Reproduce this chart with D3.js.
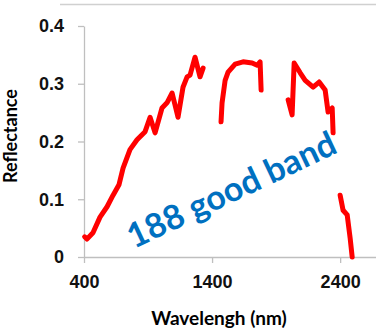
<!DOCTYPE html>
<html>
<head>
<meta charset="utf-8">
<script src="https://cdn.jsdelivr.net/npm/d3@7"></script>
<style>
  body { margin: 0; background: #fff; }
  svg { display: block; font-family: Lato, "Open Sans", sans-serif; }
  .axis path, .axis line { stroke: #bfbfbf; stroke-width: 1.3; }
  .axis text { font-size: 18px; font-weight: bold; fill: #111; }
</style>
</head>
<body>
<svg width="376" height="329"></svg>
<script>
// spectrum, null = removed (bad) bands
const wavelengths = [405, 423, 470, 525, 580, 627, 673, 705, 759, 814, 877, 916, 955, 1009, 1048, 1088, 1134, 1173, 1205, 1228, 1267, 1306, 1330,
  1400,
  1470, 1478, 1502, 1525, 1580, 1642, 1713, 1752, 1775, 1783,
  1900,
  1994, 2025, 2041, 2088, 2127, 2189, 2236, 2283, 2306, 2338, 2345,
  2370,
  2400, 2423, 2455, 2478, 2494];
const reflectance = [0.035, 0.031, 0.042, 0.069, 0.087, 0.107, 0.125, 0.154, 0.186, 0.203, 0.217, 0.242, 0.215, 0.258, 0.267, 0.284, 0.242, 0.294, 0.312, 0.315, 0.346, 0.312, 0.327,
  null,
  0.234, 0.267, 0.306, 0.320, 0.334, 0.338, 0.336, 0.332, 0.338, 0.289,
  null,
  0.272, 0.246, 0.336, 0.319, 0.306, 0.294, 0.303, 0.289, 0.251, 0.258, 0.215,
  null,
  0.107, 0.081, 0.073, 0.033, 0.0];

const xTicks = [400, 1400, 2400];
const yTicks = [0, 0.1, 0.2, 0.3, 0.4];
const xTitle = 'Wavelengh (nm)';
const yTitle = 'Reflectance';
const note = '188 good band';

const svg = d3.select('svg');

const x = d3.scaleLinear().domain([400, 2680]).range([84, 376]);
const y = d3.scaleLinear().domain([0, 0.4]).range([257, 26]);

// faint frame line at the top (cropped slide)
svg.append('line')
  .attr('x1', 60).attr('x2', 376)
  .attr('y1', 4.5).attr('y2', 4.5)
  .attr('stroke', '#d0d0d0').attr('stroke-width', 1.3);

const xAxis = d3.axisBottom(x)
  .tickValues(xTicks)
  .tickSize(6)
  .tickSizeOuter(0)
  .tickPadding(12)
  .tickFormat(d3.format('d'));
svg.append('g')
  .attr('class', 'axis')
  .attr('transform', `translate(0, ${y(0)})`)
  .call(xAxis);

const yAxis = d3.axisLeft(y)
  .tickValues(yTicks)
  .tickSize(6)
  .tickSizeOuter(0)
  .tickPadding(14)
  .tickFormat((d) => d === 0 ? '0' : d.toFixed(1));
svg.append('g')
  .attr('class', 'axis')
  .attr('transform', `translate(${x(400)}, 0)`)
  .call(yAxis);

svg.append('text')
  .attr('x', 219).attr('y', 325)
  .attr('text-anchor', 'middle')
  .style('font-size', '19px').style('font-weight', 'bold')
  .text(xTitle);

svg.append('text')
  .attr('transform', 'translate(17, 136) rotate(-90)')
  .attr('text-anchor', 'middle')
  .style('font-size', '18px').style('font-weight', 'bold')
  .text(yTitle);

const line = d3.line()
  .defined((d) => d[1] !== null)
  .x((d) => x(d[0]))
  .y((d) => y(d[1]));

svg.append('path')
  .datum(wavelengths.map((w, i) => [w, reflectance[i]]))
  .attr('d', line)
  .attr('fill', 'none')
  .attr('stroke', '#ff0000')
  .attr('stroke-width', 5)
  .attr('stroke-linejoin', 'round')
  .attr('stroke-linecap', 'round');

svg.append('text')
  .attr('transform', 'translate(134, 249) rotate(-25.3)')
  .style('font-size', '34px').style('font-weight', 'bold')
  .attr('fill', '#0070c0')
  .text(note);
</script>
</body>
</html>
